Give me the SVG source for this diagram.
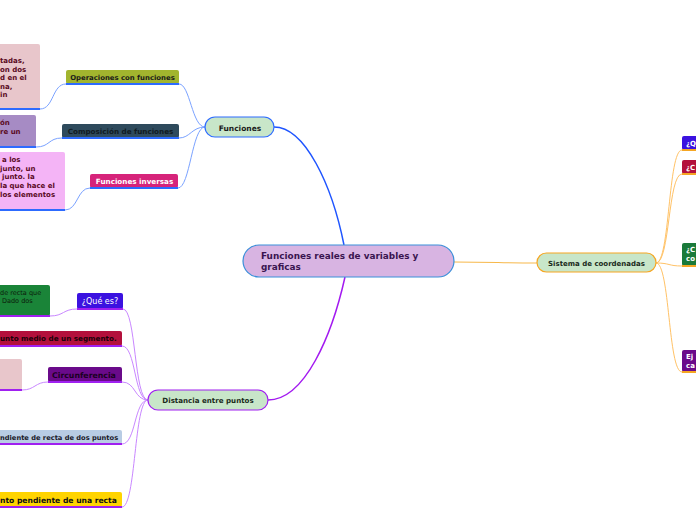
<svg xmlns="http://www.w3.org/2000/svg" width="696" height="520" viewBox="0 0 696 520">
<style>
text{font-family:"DejaVu Sans","Liberation Sans",sans-serif;font-weight:bold}
.c{fill:none}
.fb{stroke:#7aa2ff;stroke-width:1}
.fu{stroke:#2d6bff;stroke-width:2}
.dp{stroke:#c987ff;stroke-width:1}
.du{stroke:#a020f0;stroke-width:2}
.so{stroke:#ffc266;stroke-width:1}
.su{stroke:#f5a623;stroke-width:2}
.n{font-size:7px;fill:#5a0a1e}
.w{fill:#fff}
</style>
<rect width="696" height="520" fill="#fff"/>
<g id="connectors" class="c">
<path d="M344,245 C332,185 305,127 274,127" stroke="#1f55ff" stroke-width="1.5"/>
<path d="M345,277 C332,335 305,400 268,400" stroke="#a31af0" stroke-width="1.5"/>
<path d="M454,262 C495,262 500,263 537,263" stroke="#f7b84a" stroke-width="1.2"/>
<path class="fb" d="M205,127 C192,127 190,84 179,84"/>
<path class="fb" d="M205,127 C192,127 190,138 179,138"/>
<path class="fb" d="M205,127 C192,127 190,188 178,188"/>
<path class="fb" d="M66,84 C52,84 54,109 40,109"/>
<path class="fb" d="M62,138 C48,138 50,147 36,147"/>
<path class="fb" d="M90,188 C77,188 78,210 65,210"/>
<path class="dp" d="M148,400 C134,400 136,309 123,309"/>
<path class="dp" d="M148,400 C134,400 136,346 122,346"/>
<path class="dp" d="M148,400 C134,400 136,382 122,382"/>
<path class="dp" d="M148,400 C134,400 136,444 122,444"/>
<path class="dp" d="M148,400 C134,400 136,507 122,507"/>
<path class="dp" d="M77,309 C63,309 64,316 50,316"/>
<path class="dp" d="M48,382 C35,382 35,390 22,390"/>
<path class="so" d="M656,263 C670,263 668,150 682,150"/>
<path class="so" d="M656,263 C670,263 668,174 682,174"/>
<path class="so" d="M656,263 C670,263 668,266 682,266"/>
<path class="so" d="M656,263 C670,263 668,372 682,372"/>
</g>
<g id="central">
<rect x="243" y="245" width="211" height="32" rx="16" fill="#d8b4e2" stroke="#3a8fd9" stroke-width="1.2"/>
<text x="261" y="259" font-size="8.9" fill="#3a1450">Funciones reales de variables y</text>
<text x="261" y="270" font-size="8.9" fill="#3a1450">graficas</text>
</g>
<g id="funciones">
<rect x="205" y="117" width="69" height="20" rx="10" fill="#c8e6c9" stroke="#2d6bff" stroke-width="1.2"/>
<text x="240" y="131" font-size="7.5" fill="#1a1a1a" text-anchor="middle">Funciones</text>
</g>
<g id="operaciones">
<rect x="66" y="70" width="113" height="14" rx="2" fill="#a2b52e"/>
<line class="fu" x1="66" y1="84" x2="179" y2="84"/>
<text x="122.5" y="80" font-size="6.9" fill="#1a1a1a" text-anchor="middle">Operaciones con funciones</text>
</g>
<g id="nota-operaciones">
<rect x="-4" y="44" width="44" height="65" rx="2" fill="#e8c6cb"/>
<line class="fu" x1="0" y1="109" x2="40" y2="109"/>
<text class="n" x="0" y="63">tadas,</text>
<text class="n" x="0" y="71.5">on dos</text>
<text class="n" x="0" y="80">d en el</text>
<text class="n" x="0" y="88.5">na,</text>
<text class="n" x="0" y="97">in</text>
</g>
<g id="composicion">
<rect x="62" y="124" width="117" height="14" rx="2" fill="#2e4a5c"/>
<line class="fu" x1="62" y1="138" x2="179" y2="138"/>
<text x="120.5" y="134" font-size="7.2" fill="#101a22" text-anchor="middle">Composición de funciones</text>
</g>
<g id="nota-composicion">
<rect x="-4" y="115" width="40" height="32" rx="2" fill="#a68bc4"/>
<line class="fu" x1="0" y1="147" x2="36" y2="147"/>
<text class="n" x="0" y="125" fill="#2a0a2a">ón</text>
<text class="n" x="0" y="134" fill="#2a0a2a">re un</text>
</g>
<g id="inversas">
<rect x="90" y="174" width="88" height="14" rx="2" fill="#d6237a"/>
<line class="fu" x1="90" y1="188" x2="178" y2="188"/>
<text x="134.5" y="184" font-size="7.2" class="w" text-anchor="middle">Funciones inversas</text>
</g>
<g id="nota-inversas">
<rect x="-4" y="152" width="69" height="58" rx="2" fill="#f4b4f6"/>
<line class="fu" x1="0" y1="210" x2="65" y2="210"/>
<text class="n" x="2" y="162">a los</text>
<text class="n" x="0" y="170.5">junto, un</text>
<text class="n" x="2" y="179">junto. la</text>
<text class="n" x="0" y="188">la que hace el</text>
<text class="n" x="0" y="196.5">los elementos</text>
</g>
<g id="distancia">
<rect x="148" y="390" width="120" height="20" rx="10" fill="#c8e6c9" stroke="#a020f0" stroke-width="1.2"/>
<text x="208" y="403" font-size="7.1" fill="#1a2a1a" text-anchor="middle">Distancia entre puntos</text>
</g>
<g id="que-es">
<rect x="77" y="293" width="46" height="16" rx="2" fill="#3b12e0"/>
<line class="du" x1="77" y1="309" x2="123" y2="309"/>
<text x="100" y="304" font-size="8" class="w" text-anchor="middle" style="font-weight:normal">¿Qué es?</text>
</g>
<g id="nota-que-es">
<rect x="-4" y="285" width="54" height="31" rx="2" fill="#1a8438"/>
<line class="du" x1="0" y1="316" x2="50" y2="316"/>
<text x="0" y="295" font-size="6.5" fill="#0a1a0a" style="font-weight:normal">de recta que</text>
<text x="2" y="303" font-size="6.5" fill="#0a1a0a" style="font-weight:normal">Dado dos</text>
</g>
<g id="punto-medio">
<rect x="-4" y="331" width="126" height="15" rx="2" fill="#b3103c"/>
<line class="du" x1="0" y1="346" x2="122" y2="346"/>
<text x="0" y="341" font-size="7.2" fill="#1a0008">unto medio de un segmento.</text>
</g>
<g id="circunferencia">
<rect x="48" y="367" width="74" height="15" rx="2" fill="#6a0a8a"/>
<line class="du" x1="48" y1="382" x2="122" y2="382"/>
<text x="52" y="377.5" font-size="7.8" fill="#1a0022">Circunferencia</text>
</g>
<g id="nota-circunferencia">
<rect x="-4" y="359" width="26" height="31" rx="2" fill="#e8c6cb"/>
<line class="du" x1="0" y1="390" x2="22" y2="390"/>
</g>
<g id="pendiente-dos-puntos">
<rect x="-4" y="430" width="126" height="14" rx="2" fill="#b8cce4"/>
<line class="du" x1="0" y1="444" x2="122" y2="444"/>
<text x="0" y="440" font-size="6.7" fill="#1a1a2a">ndiente de recta de dos puntos</text>
</g>
<g id="punto-pendiente">
<rect x="-4" y="492" width="126" height="15" rx="2" fill="#ffd400"/>
<line class="du" x1="0" y1="507" x2="122" y2="507"/>
<text x="0" y="502.5" font-size="7.6" fill="#111">nto pendiente de una recta</text>
</g>
<g id="sistema">
<rect x="537" y="253" width="119" height="19" rx="9.5" fill="#c8e6c9" stroke="#f5a623" stroke-width="1.2"/>
<text x="596.5" y="266" font-size="7" fill="#1a2a1a" text-anchor="middle">Sistema de coordenadas</text>
</g>
<g id="q1">
<rect x="682" y="136" width="18" height="14" rx="2" fill="#3b12e0"/>
<line class="su" x1="682" y1="150" x2="696" y2="150"/>
<text x="686" y="146" font-size="7" class="w">¿Q</text>
</g>
<g id="q2">
<rect x="682" y="160" width="18" height="14" rx="2" fill="#b3103c"/>
<line class="su" x1="682" y1="174" x2="696" y2="174"/>
<text x="686" y="170" font-size="7" class="w">¿C</text>
</g>
<g id="q3">
<rect x="682" y="243" width="18" height="23" rx="2" fill="#1a7a3a"/>
<line class="su" x1="682" y1="266" x2="696" y2="266"/>
<text x="686" y="252" font-size="7" class="w">¿C</text>
<text x="686" y="261" font-size="7" class="w">co</text>
</g>
<g id="q4">
<rect x="682" y="350" width="18" height="22" rx="2" fill="#6a0a8a"/>
<line class="su" x1="682" y1="372" x2="696" y2="372"/>
<text x="686" y="359" font-size="7" class="w">Ej</text>
<text x="686" y="368" font-size="7" class="w">ca</text>
</g>
</svg>
